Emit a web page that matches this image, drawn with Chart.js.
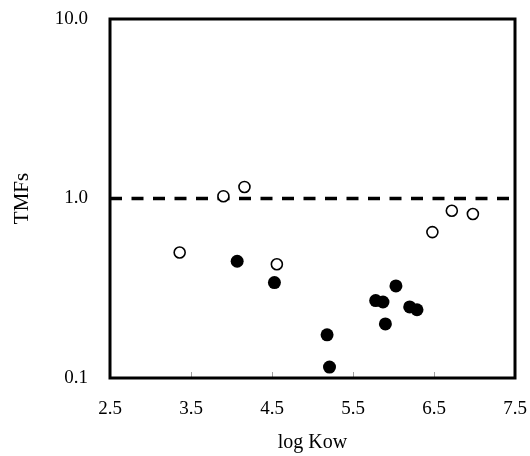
<!DOCTYPE html>
<html>
<head>
<meta charset="utf-8">
<script src="https://cdn.jsdelivr.net/npm/chart.js@4.4.1/dist/chart.umd.min.js"></script>
<style>
    html, body { margin: 0; padding: 0; background: #fff; }
    #wrap { width: 530px; height: 456px; }
</style>
</head>
<body>
<div id="wrap"><canvas id="tmfChart" width="530" height="456"></canvas></div>
<script>
// Данные (log Kow -> TMF)
const openX = [3.36, 3.90, 4.16, 4.56, 6.48, 6.72, 6.98];
const openY = [0.50, 1.03, 1.16, 0.43, 0.65, 0.855, 0.82];
const filledX = [4.07, 4.53, 5.18, 5.21, 5.78, 5.87, 5.90, 6.03, 6.20, 6.29];
const filledY = [0.447, 0.34, 0.174, 0.115, 0.27, 0.265, 0.20, 0.326, 0.249, 0.24];
const refX = [2.5, 7.5];
const refY = [1.0, 1.0];
const xTicks = [2.5, 3.5, 4.5, 5.5, 6.5, 7.5];
const yTicks = [0.1, 1, 10];

const FONT = 'Liberation Serif, Times New Roman, serif';

const toPoints = (xs, ys) => xs.map((x, i) => ({ x: x, y: ys[i] }));

// Рамка вокруг области графика + внутренние засечки по X
const framePlugin = {
    id: 'frame',
    afterDatasetsDraw(chart) {
        const { ctx, chartArea: a, scales } = chart;
        ctx.save();
        // засечки
        ctx.strokeStyle = '#a0a0a0';
        ctx.lineWidth = 1;
        xTicks.slice(1, -1).forEach(v => {
            const px = Math.round(scales.x.getPixelForValue(v)) + 0.5;
            ctx.beginPath();
            ctx.moveTo(px, a.bottom);
            ctx.lineTo(px, a.bottom - 6);
            ctx.stroke();
        });
        ctx.strokeStyle = '#000';
        ctx.lineWidth = 3;
        ctx.strokeRect(a.left, a.top, a.right - a.left, a.bottom - a.top);
        ctx.restore();
    }
};

const ctx = document.getElementById('tmfChart').getContext('2d');
const chart = new Chart(ctx, {
    type: 'scatter',
    data: {
        datasets: [
            {
                label: 'open',
                data: toPoints(openX, openY),
                pointRadius: 5.5,
                pointBorderWidth: 1.6,
                borderColor: '#000',
                backgroundColor: '#fff',
                pointBackgroundColor: '#fff',
                pointBorderColor: '#000',
                order: 1
            },
            {
                label: 'filled',
                data: toPoints(filledX, filledY),
                pointRadius: 6.5,
                pointBorderWidth: 0,
                borderColor: '#000',
                backgroundColor: '#000',
                pointBackgroundColor: '#000',
                order: 1
            },
            {
                type: 'line',
                label: 'TMF = 1',
                data: toPoints(refX, refY),
                borderColor: '#000',
                borderWidth: 3.5,
                borderDash: [12, 9.5],
                pointRadius: 0,
                fill: false,
                tension: 0,
                order: 2
            }
        ]
    },
    options: {
        responsive: false,
        animation: false,
        layout: { padding: { left: 0, right: 15, top: 19, bottom: 0 } },
        plugins: {
            legend: { display: false },
            tooltip: { enabled: false }
        },
        scales: {
            x: {
                type: 'linear',
                min: 2.5,
                max: 7.5,
                afterBuildTicks: (scale) => { scale.ticks = xTicks.map(v => ({ value: v })); },
                afterFit: (scale) => {
                    scale.height = 78;
                    scale.paddingLeft = 0;
                    scale.paddingRight = 0;
                },
                grid: { display: false, drawTicks: false },
                border: { display: false },
                ticks: {
                    color: '#000',
                    padding: 20,
                    maxRotation: 0,
                    font: { family: FONT, size: 19 },
                    callback: (v) => Number(v).toFixed(1)
                },
                title: {
                    display: true,
                    text: 'log Kow',
                    color: '#000',
                    padding: { top: 0, bottom: 1 },
                    font: { family: FONT, size: 20 }
                }
            },
            y: {
                type: 'logarithmic',
                min: 0.1,
                max: 10,
                afterBuildTicks: (scale) => { scale.ticks = yTicks.map(v => ({ value: v })); },
                afterFit: (scale) => {
                    scale.width = 110;
                    scale.paddingTop = 0;
                    scale.paddingBottom = 0;
                },
                grid: { display: false, drawTicks: false },
                border: { display: false },
                ticks: {
                    color: '#000',
                    padding: 22,
                    font: { family: FONT, size: 19 },
                    callback: (v) => Number(v).toFixed(1)
                },
                title: {
                    display: true,
                    text: 'TMFs',
                    color: '#000',
                    padding: { top: 10, bottom: 0 },
                    font: { family: FONT, size: 21 }
                }
            }
        }
    },
    plugins: [framePlugin]
});
</script>
</body>
</html>
